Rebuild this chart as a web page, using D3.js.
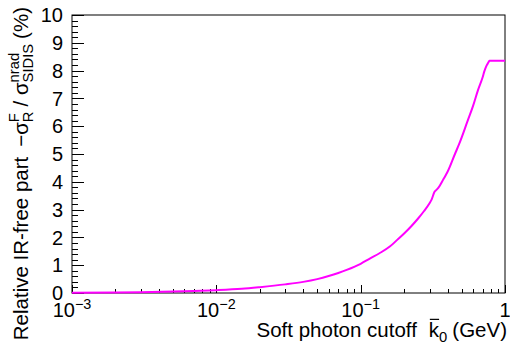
<!DOCTYPE html>
<html>
<head>
<meta charset="utf-8">
<script src="https://cdn.jsdelivr.net/npm/d3@7"></script>
<style>
  html, body { margin: 0; padding: 0; background: #fff; }
  svg text { font-family: "Liberation Sans", Arial, Helvetica, sans-serif; fill: #000; }
</style>
</head>
<body>
<div id="chart"></div>
<script>
// soft photon cutoff k0 (GeV)
var kCutoff = [0.001, 0.002, 0.003, 0.005, 0.007, 0.01, 0.015, 0.02, 0.03, 0.04, 0.05, 0.06, 0.07, 0.08,
    0.1, 0.115, 0.135, 0.16, 0.18, 0.2, 0.225, 0.25, 0.275, 0.3, 0.31, 0.325, 0.335, 0.346, 0.375, 0.4,
    0.45, 0.483, 0.55, 0.6, 0.65, 0.7, 0.72, 0.745, 0.765, 0.78, 0.85, 1.0];
// relative IR-free part (%)
var relPart = [0.01, 0.02, 0.03, 0.05, 0.07, 0.10, 0.15, 0.21, 0.31, 0.40, 0.50, 0.61, 0.72, 0.83,
    1.05, 1.23, 1.43, 1.68, 1.92, 2.14, 2.41, 2.68, 2.95, 3.23, 3.36, 3.64, 3.71, 3.79, 4.10, 4.36,
    5.00, 5.38, 6.18, 6.72, 7.30, 7.76, 7.98, 8.18, 8.28, 8.35, 8.35, 8.35];

var xMajor = [1e-3, 1e-2, 1e-1, 1];
var xExp = ["\u22123", "\u22122", "\u22121", ""];
var yMajor = [0, 1, 2, 3, 4, 5, 6, 7, 8, 9, 10];

var width = 510, height = 342;
var frame = { left: 72, right: 505, top: 15, bottom: 293 };

var svg = d3.select("#chart").append("svg").attr("width", width).attr("height", height);

var x = d3.scaleLog().domain([1e-3, 1]).range([frame.left, frame.right]);
var y = d3.scaleLinear().domain([0, 10]).range([frame.bottom, frame.top]);

// lay out text runs (with sub/superscripts) left to right, returns total width
function layoutRuns(g, runs, size) {
    var cx = 0;
    runs.forEach(function (r) {
        if (r.gap) { cx += r.gap; return; }
        if (r.sup !== undefined || r.sub !== undefined) {
            var w1 = 0, w2 = 0, ss = size * 0.72;
            if (r.sup) {
                var t1 = g.append("text").attr("x", cx).attr("y", -size * 0.42).style("font-size", ss + "px").text(r.sup);
                w1 = t1.node().getComputedTextLength();
            }
            if (r.sub) {
                var t2 = g.append("text").attr("x", cx).attr("y", size * 0.24).style("font-size", ss + "px").text(r.sub);
                w2 = t2.node().getComputedTextLength();
            }
            cx += Math.max(w1, w2);
            return;
        }
        var t = g.append("text").attr("x", cx).attr("y", 0).style("font-size", size + "px").text(r.text);
        var w = t.node().getComputedTextLength();
        if (r.bar) {
            g.append("line").attr("x1", cx + 1).attr("x2", cx + w).attr("y1", -size * 0.86).attr("y2", -size * 0.86)
                .attr("stroke", "#000").attr("stroke-width", 1.2);
        }
        cx += w;
    });
    return cx;
}

// frame
svg.append("rect").attr("x", frame.left).attr("y", frame.top)
    .attr("width", frame.right - frame.left).attr("height", frame.bottom - frame.top)
    .attr("fill", "none").attr("stroke", "#000").attr("stroke-width", 1);

// x ticks (inward)
var xMinor = [];
xMajor.slice(0, 3).forEach(function (d) {
    for (var m = 2; m <= 9; m++) xMinor.push(d * m);
});
svg.append("g").selectAll("line.minor").data(xMinor).enter().append("line")
    .attr("x1", function (d) { return Math.round(x(d)) + 0.5; })
    .attr("x2", function (d) { return Math.round(x(d)) + 0.5; })
    .attr("y1", frame.bottom).attr("y2", frame.bottom - 4)
    .attr("stroke", "#000").attr("stroke-width", 1);
svg.append("g").selectAll("line.major").data(xMajor).enter().append("line")
    .attr("x1", function (d) { return Math.round(x(d)) + 0.5; })
    .attr("x2", function (d) { return Math.round(x(d)) + 0.5; })
    .attr("y1", frame.bottom).attr("y2", frame.bottom - 8)
    .attr("stroke", "#000").attr("stroke-width", 1);

// x tick labels
xMajor.forEach(function (d, i) {
    var g = svg.append("g");
    var runs = xExp[i] ? [{ text: "10" }, { sup: xExp[i] }] : [{ text: "1" }];
    var w = layoutRuns(g, runs, 20);
    g.attr("transform", "translate(" + (x(d) - w / 2) + "," + 317 + ")");
});

// y ticks (inward)
var yMinor = [];
for (var v = 0; v < 10; v++) for (var m = 1; m < 5; m++) yMinor.push(v + m * 0.2);
svg.append("g").selectAll("line").data(yMinor).enter().append("line")
    .attr("x1", frame.left).attr("x2", frame.left + 6)
    .attr("y1", function (d) { return Math.round(y(d)) + 0.5; })
    .attr("y2", function (d) { return Math.round(y(d)) + 0.5; })
    .attr("stroke", "#000").attr("stroke-width", 1);
svg.append("g").selectAll("line").data(yMajor).enter().append("line")
    .attr("x1", frame.left).attr("x2", frame.left + 12)
    .attr("y1", function (d) { return Math.round(y(d)) + 0.5; })
    .attr("y2", function (d) { return Math.round(y(d)) + 0.5; })
    .attr("stroke", "#000").attr("stroke-width", 1);

svg.append("g").selectAll("text").data(yMajor).enter().append("text")
    .attr("x", 63).attr("y", function (d) { return y(d); })
    .attr("dy", "0.36em").attr("text-anchor", "end")
    .style("font-size", "20px").text(function (d) { return d; });

// curve
var line = d3.line()
    .x(function (d, i) { return x(kCutoff[i]); })
    .y(function (d) { return y(d); })
    .curve(d3.curveMonotoneX);
svg.append("path").datum(relPart).attr("d", line)
    .attr("fill", "none").attr("stroke", "#ff00ff").attr("stroke-width", 2)
    .attr("stroke-linejoin", "round");

// x title
var xt = svg.append("g");
var xtw = layoutRuns(xt, [{ text: "Soft photon cutoff" }, { gap: 12 }, { text: "k", bar: true },
    { sub: "0" }, { gap: 5 }, { text: "(GeV)" }], 20.5);
xt.attr("transform", "translate(" + (507 - xtw) + "," + 337 + ")");

// y title
var yt = svg.append("g");
var ytInner = yt.append("g");
var ytw = layoutRuns(ytInner, [{ text: "Relative IR-free part" }, { gap: 10 }, { text: "\u2212\u03c3" },
    { sup: "F", sub: "R" }, { gap: 5 }, { text: "/ \u03c3" }, { sup: "nrad", sub: "SIDIS" }, { gap: 5 }, { text: "(%)" }], 20.5);
ytInner.attr("transform", "translate(" + (-ytw) + ",0)");
yt.attr("transform", "translate(28,7) rotate(-90)");
</script>
</body>
</html>
